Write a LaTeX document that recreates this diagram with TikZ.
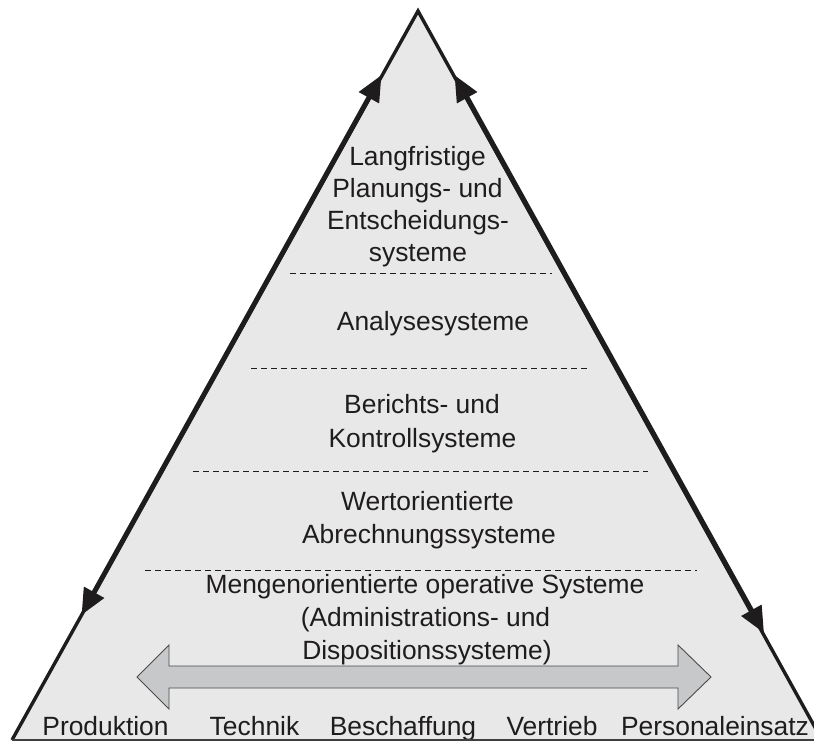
\documentclass[tikz,border=0pt]{standalone}
\usepackage{fontspec}
\setmainfont{Liberation Sans}
\usetikzlibrary{arrows.meta}
\definecolor{pyrfill}{HTML}{E8E8E8}
\definecolor{arrfill}{HTML}{C7C8CA}
\definecolor{arredge}{HTML}{4A4A4A}
\definecolor{ink}{HTML}{1F1C1D}
\begin{document}
\begin{tikzpicture}[x=1pt,y=-1pt,
  lbl/.style={anchor=base,inner sep=0pt,text=ink,font=\fontsize{26.4}{33}\selectfont},
  sideline/.style={line width=3.4pt,draw=ink,line join=miter,line cap=butt},
  baseline/.style={line width=2pt,draw=ink!85},
  sidearrow/.style={line width=5pt,draw=ink,
    {Triangle[length=26pt,width=22pt]}-{Triangle[length=26pt,width=22pt]}},
  levelsep/.style={dash pattern=on 6pt off 4pt,line width=1pt,draw=ink},
  flowarrow/.style={fill=arrfill,draw=arredge,line width=0.9pt,line join=miter}]
\useasboundingbox (0,0) rectangle (814,742);
\clip (0,0) rectangle (814,742);

% pyramid corners
\coordinate (apex) at (418,11);
\coordinate (bl) at (12,740);
\coordinate (br) at (822,740);

% pyramid body
\fill[pyrfill] (apex) -- (bl) -- (br) -- cycle;

% level separators
\coordinate (s1l) at (290,273); \coordinate (s1r) at (552,273);
\coordinate (s2l) at (251,368); \coordinate (s2r) at (588,368);
\coordinate (s3l) at (193,471); \coordinate (s3r) at (648,471);
\coordinate (s4l) at (145,570); \coordinate (s4r) at (697,570);
\draw[levelsep] (s1l) -- (s1r);
\draw[levelsep] (s2l) -- (s2r);
\draw[levelsep] (s3l) -- (s3r);
\draw[levelsep] (s4l) -- (s4r);

% horizontal double arrow across the functional areas
\draw[flowarrow] (137,677) -- (169,645) -- (169,666) -- (678,666) -- (678,645)
  -- (711,677) -- (678,709) -- (678,688) -- (169,688) -- (169,709) -- cycle;

% level labels
\node[lbl] (t1) at (417.5,165) {Langfristige};
\node[lbl] (t2) at (417.5,197) {Planungs- und};
\node[lbl] (t3) at (418,229) {Entscheidungs-};
\node[lbl] (t4) at (418,261) {systeme};
\node[lbl] (t5) at (433,330) {Analysesysteme};
\node[lbl] (t6) at (422,413) {Berichts- und};
\node[lbl] (t7) at (422.5,447) {Kontrollsysteme};
\node[lbl] (t8) at (427.5,510) {Wertorientierte};
\node[lbl] (t9) at (429,543) {Abrechnungssysteme};
\node[lbl] (t10) at (425,593) {Mengenorientierte operative Systeme};
\node[lbl] (t11) at (425.5,626) {(Administrations- und};
\node[lbl] (t12) at (427,659) {Dispositionssysteme)};

% functional areas along the base
\node[lbl] (f1) at (105.5,735) {Produktion};
\node[lbl] (f2) at (254.5,735) {Technik};
\node[lbl] (f3) at (403,735) {Beschaffung};
\node[lbl] (f4) at (552,735) {Vertrieb};
\node[lbl] (f5) at (715,735) {Personaleinsatz};

% pyramid outline
\draw[sideline] (bl) -- (apex) -- (br);
\draw[baseline] (bl) -- (br);

% information flow along the sides
\coordinate (la1) at (381.5,75);
\coordinate (la2) at (81.5,615);
\coordinate (ra1) at (454.5,75);
\coordinate (ra2) at (764,633);
\draw[sidearrow] (la1) -- (la2);
\draw[sidearrow] (ra1) -- (ra2);
\end{tikzpicture}
\end{document}
